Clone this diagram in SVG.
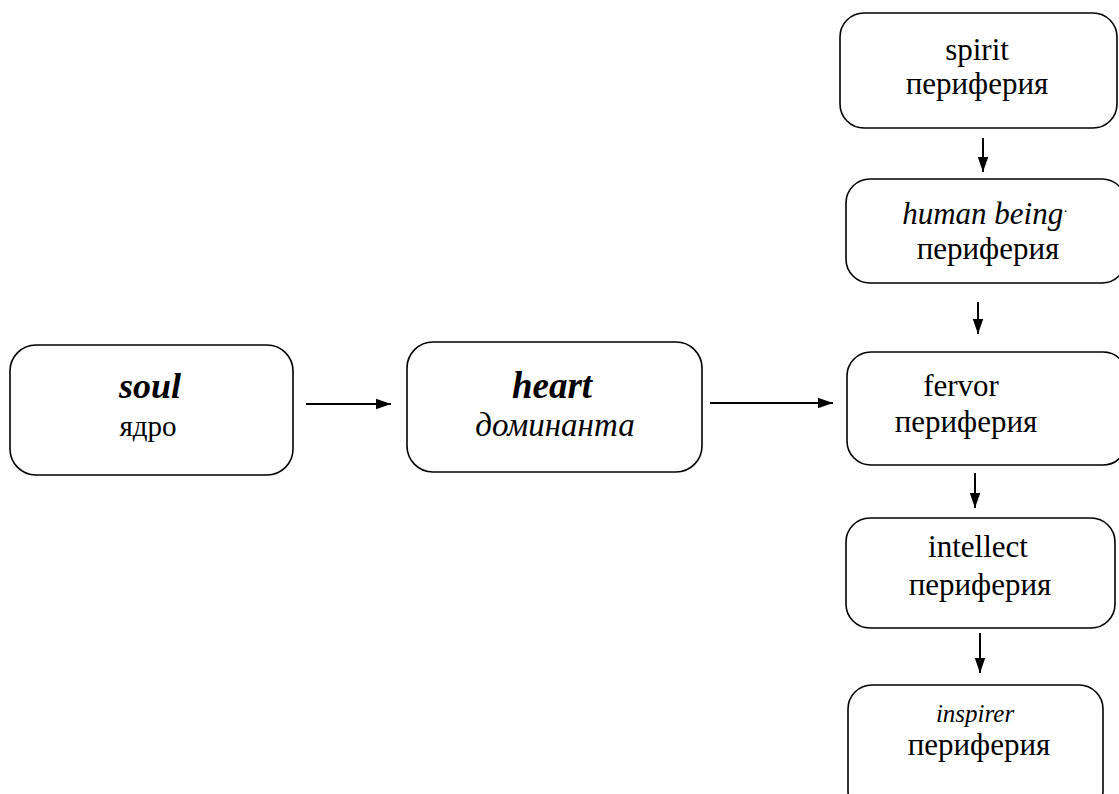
<svg xmlns="http://www.w3.org/2000/svg" width="1119" height="794" viewBox="0 0 1119 794">
<style>
.box{fill:#fff;stroke:#000;stroke-width:1.6}
.c{stroke:#000;stroke-width:2;fill:none}
</style>
<defs>
<marker id="ah2" viewBox="0 0 10 10" refX="10" refY="5" markerWidth="15" markerHeight="15" markerUnits="userSpaceOnUse" orient="auto">
<path d="M0,1.5 L10,5 L0,8.5 z" fill="#000"/>
</marker>
</defs>
<g id="connectors">
<line class="c" x1="306" y1="404" x2="391" y2="404" marker-end="url(#ah2)"/>
<line class="c" x1="710" y1="403" x2="833" y2="403" marker-end="url(#ah2)"/>
<line class="c" x1="983" y1="138" x2="983" y2="172" marker-end="url(#ah2)"/>
<line class="c" x1="978" y1="302" x2="978" y2="334" marker-end="url(#ah2)"/>
<line class="c" x1="975" y1="473" x2="975" y2="508" marker-end="url(#ah2)"/>
<line class="c" x1="980" y1="633" x2="980" y2="673" marker-end="url(#ah2)"/>
</g>
<g font-family="'Liberation Serif', 'DejaVu Serif', serif" text-anchor="middle" font-size="31" fill="#000">
<g id="soul">
<rect class="box" x="10" y="345" width="283" height="130" rx="26"/>
<text x="150" y="398" font-size="36" font-weight="bold" font-style="italic">soul</text>
<text x="148" y="436" font-size="29">ядро</text>
</g>
<g id="heart">
<rect class="box" x="407" y="342" width="295" height="130" rx="26"/>
<text x="552" y="398" font-size="37" font-weight="bold" font-style="italic">heart</text>
<text x="555" y="436" font-size="33" font-style="italic">доминанта</text>
</g>
<g id="spirit">
<rect class="box" x="840" y="13" width="277" height="115" rx="24"/>
<text x="977" y="60">spirit</text>
<text x="977" y="94">периферия</text>
</g>
<g id="human-being">
<rect class="box" x="846" y="179" width="280" height="104" rx="24"/>
<text x="985" y="224" font-style="italic">human being<tspan font-size="14" font-style="normal" dy="-8">·</tspan></text>
<text x="988" y="259">периферия</text>
</g>
<g id="fervor">
<rect class="box" x="847" y="352" width="280" height="113" rx="24"/>
<text x="961" y="396">fervor</text>
<text x="966" y="432">периферия</text>
</g>
<g id="intellect">
<rect class="box" x="846" y="518" width="269" height="110" rx="24"/>
<text x="978" y="557">intellect</text>
<text x="980" y="595">периферия</text>
</g>
<g id="inspirer">
<rect class="box" x="848" y="685" width="255" height="130" rx="24"/>
<text x="975" y="722" font-size="25" font-style="italic">inspirer</text>
<text x="979" y="755">периферия</text>
</g>
</g>
</svg>
